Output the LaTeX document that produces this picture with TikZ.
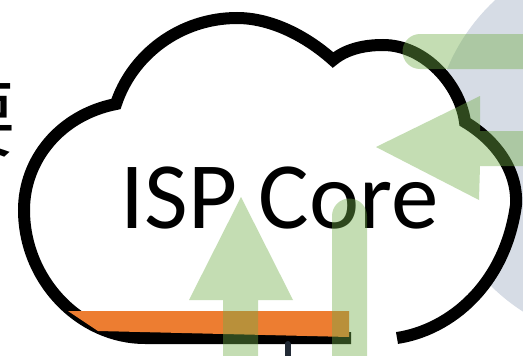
\documentclass[tikz,border=0pt]{standalone}
\usepackage{fontspec}
\setmainfont{Carlito}
\newfontfamily\cjkfont{Noto Sans CJK SC}
\definecolor{cloudblue}{HTML}{D6DCE5}
\definecolor{flowgreen}{HTML}{70AD47}
\definecolor{bandorange}{HTML}{ED7D31}
\definecolor{stubdark}{HTML}{222A35}
\tikzset{
  flowarrow/.style={fill=flowgreen,fill opacity=0.41,draw=none},
  cloudline/.style={draw=black,line width=12pt,line join=miter,miter limit=10},
}
\begin{document}
\begin{tikzpicture}[x=1pt,y=-1pt]
\clip (0,0) rectangle (523,356);
% background disc and cropped glyph
\fill[cloudblue] (630,145) circle (198pt);
\node[inner sep=0pt,anchor=east,font=\cjkfont\fontsize{84}{84}\selectfont] (cutglyph) at (17,120) {要};
% cloud
\path[fill=white] (397,338) .. controls (450,330) and (505,285) .. (516,205)
  .. controls (518,170) and (495,140) .. (465,122)
  .. controls (460,85) and (425,45) .. (383,45)
  .. controls (362,45) and (345,50) .. (333,60)
  .. controls (305,35) and (270,18) .. (237,18)
  .. controls (180,18) and (132,55) .. (116,104)
  .. controls (60,115) and (24,160) .. (24,210)
  .. controls (24,280) and (80,338) .. (145,338)
  -- (351,338) -- cycle;
\draw[cloudline] (397,338) .. controls (450,330) and (505,285) .. (516,205)
  .. controls (518,170) and (495,140) .. (465,122)
  .. controls (460,85) and (425,45) .. (383,45)
  .. controls (362,45) and (345,50) .. (333,60)
  .. controls (305,35) and (270,18) .. (237,18)
  .. controls (180,18) and (132,55) .. (116,104)
  .. controls (60,115) and (24,160) .. (24,210)
  .. controls (24,280) and (80,338) .. (145,338)
  -- (351,338);
% stub
\draw[stubdark,line width=6pt,line cap=round] (287.5,344) -- (287.5,360);
% label
\node[inner sep=0pt,font=\fontsize{95}{95}\selectfont] (label) at (279.5,198) {ISP Core};
% orange band
\fill[bandorange] (68,311) -- (349,311) -- (349,337) -- (98,331) -- cycle;
% green arrows
\path[flowarrow] (241,197) -- (293,300) -- (258,300) -- (258,360) -- (223,360) -- (223,300) -- (189,300) -- cycle;
\path[flowarrow] (332,360) -- (332,216) arc[start angle=180,end angle=360,radius=17.5] -- (367,360) -- cycle;
\path[flowarrow] (527,34) -- (420,34) arc[start angle=270,end angle=90,radius=17.5] -- (527,69) -- cycle;
\path[flowarrow] (376,147) -- (480,96) -- (480,131) -- (527,131) -- (527,166) -- (480,166) -- (479,200) -- cycle;
\end{tikzpicture}
\end{document}
